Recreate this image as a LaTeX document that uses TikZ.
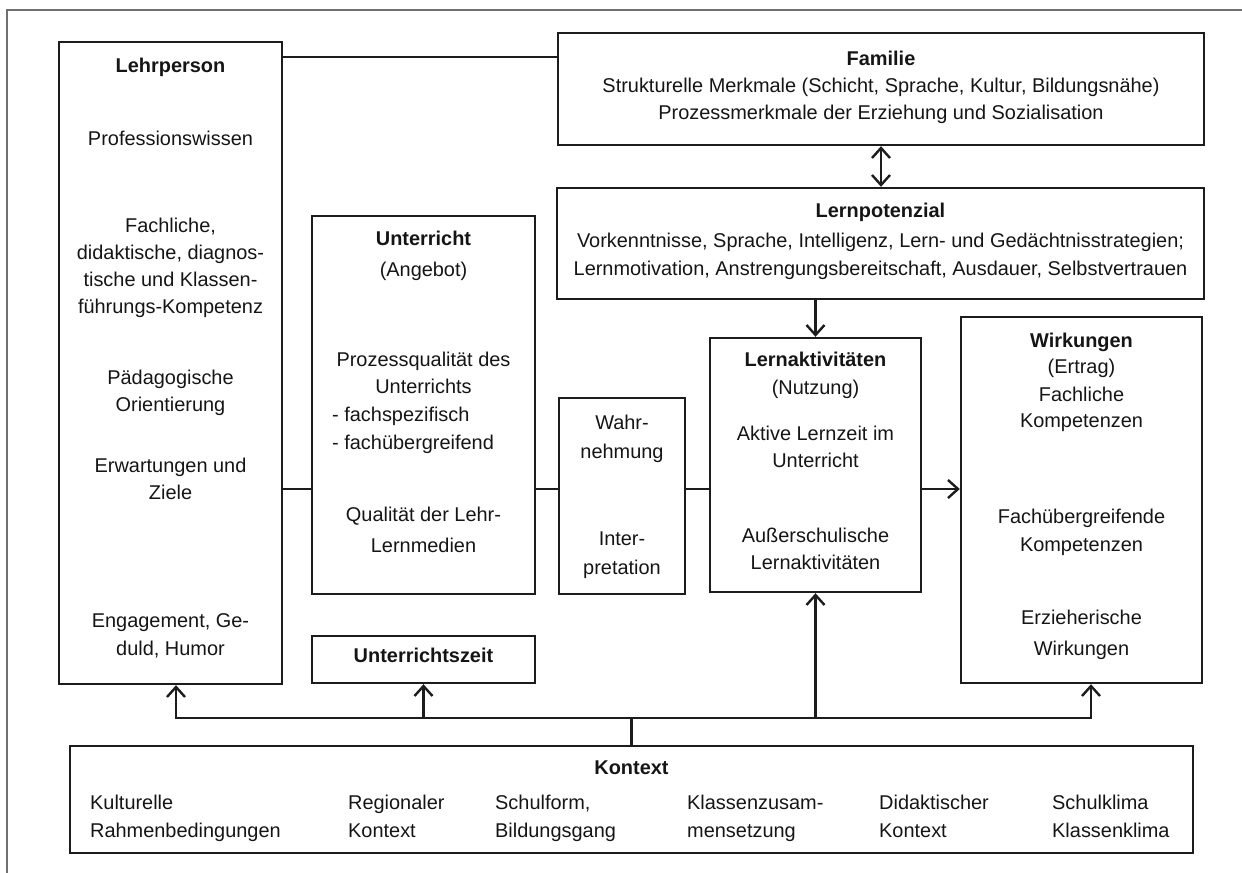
\documentclass[tikz,border=0pt]{standalone}
\usepackage{fontspec}
\setmainfont{Liberation Sans}
\usetikzlibrary{arrows.meta}
\definecolor{boxcol}{HTML}{1C1C1C}
\definecolor{txtcol}{HTML}{151515}
\definecolor{framecol}{HTML}{707070}
\begin{document}
\begin{tikzpicture}[x=1bp,y=-1bp,
  box/.style={draw=boxcol, line width=2.4bp, inner sep=0pt},
  txt/.style={inner sep=0pt, anchor=mid, text=txtcol, font=\fontsize{20}{24}\selectfont},
  txtl/.style={txt, anchor=mid west},
  ttl/.style={txt, font=\fontsize{20}{24}\selectfont\bfseries},
  conn/.style={draw=boxcol, line width=2.4bp},
  arr/.style={conn, -{Straight Barb[length=10bp,width=18bp]}},
  dbl/.style={conn, {Straight Barb[length=10bp,width=18bp]}-{Straight Barb[length=10bp,width=18bp]}},
  framel/.style={draw=framecol, line width=1.6bp}]
\useasboundingbox (0,0) rectangle (1242,873);
\draw[framel] (7,873) -- (7,10) -- (1242,10);

% boxes
\node[box, minimum width=223bp, minimum height=642bp] (lehr) at (170.5,363) {};
\node[box, minimum width=646bp, minimum height=112bp] (fam) at (881,89) {};
\node[box, minimum width=647bp, minimum height=111bp] (lpot) at (880.5,243.5) {};
\node[box, minimum width=223bp, minimum height=378bp] (unt) at (423.5,405) {};
\node[box, minimum width=223bp, minimum height=47bp] (uzeit) at (423.5,659.5) {};
\node[box, minimum width=126bp, minimum height=196bp] (wahr) at (622,496) {};
\node[box, minimum width=211bp, minimum height=254bp] (lakt) at (815.5,465) {};
\node[box, minimum width=241bp, minimum height=366bp] (wirk) at (1081.5,500) {};
\node[box, minimum width=1123bp, minimum height=107bp] (kon) at (631.5,799.5) {};

% Lehrperson texts
\node[ttl] (l1) at (170.5,70) {Lehrperson};
\node[txt] (l2) at (170.5,143) {Professionswissen};
\node[txt] (l3) at (170.5,230) {Fachliche,};
\node[txt] (l4) at (170.5,257) {didaktische, diagnos-};
\node[txt] (l5) at (170.5,284) {tische und Klassen-};
\node[txt] (l6) at (170.5,311) {führungs-Kompetenz};
\node[txt] (l7) at (170.5,382) {Pädagogische};
\node[txt] (l8) at (170.5,409) {Orientierung};
\node[txt] (l9) at (170.5,470) {Erwartungen und};
\node[txt] (l10) at (170.5,497) {Ziele};
\node[txt] (l11) at (170.5,625) {Engagement, Ge-};
\node[txt] (l12) at (170.5,653) {duld, Humor};

% Familie
\node[ttl] (f1) at (881,63) {Familie};
\node[txt] (f2) at (881,90) {Strukturelle Merkmale (Schicht, Sprache, Kultur, Bildungsnähe)};
\node[txt] (f3) at (881,117) {Prozessmerkmale der Erziehung und Sozialisation};

% Lernpotenzial
\node[ttl] (p1) at (880.5,215) {Lernpotenzial};
\node[txt] (p2) at (880.5,245) {Vorkenntnisse, Sprache, Intelligenz, Lern- und Gedächtnisstrategien;};
\node[txt] (p3) at (880.5,273) {Lernmotivation, Anstrengungsbereitschaft, Ausdauer, Selbstvertrauen};

% Unterricht
\node[ttl] (u1) at (423.5,243) {Unterricht};
\node[txt] (u2) at (423.5,274) {(Angebot)};
\node[txt] (u3) at (423.5,364) {Prozessqualität des};
\node[txt] (u4) at (423.5,391) {Unterrichts};
\node[txtl] (u5) at (332,419) {- fachspezifisch};
\node[txtl] (u6) at (332,447) {- fachübergreifend};
\node[txt] (u7) at (423.5,519) {Qualität der Lehr-};
\node[txt] (u8) at (423.5,550) {Lernmedien};
\node[ttl] (z1) at (423.5,660) {Unterrichtszeit};

% Wahrnehmung
\node[txt] (w1) at (622,427) {Wahr-};
\node[txt] (w2) at (622,456) {nehmung};
\node[txt] (w3) at (622,543) {Inter-};
\node[txt] (w4) at (622,572) {pretation};

% Lernaktivitaeten
\node[ttl] (a1) at (815.5,364) {Lernaktivitäten};
\node[txt] (a2) at (815.5,392) {(Nutzung)};
\node[txt] (a3) at (815.5,438) {Aktive Lernzeit im};
\node[txt] (a4) at (815.5,465) {Unterricht};
\node[txt] (a5) at (815.5,540) {Außerschulische};
\node[txt] (a6) at (815.5,567) {Lernaktivitäten};

% Wirkungen
\node[ttl] (k1) at (1081.5,345) {Wirkungen};
\node[txt] (k2) at (1081.5,371) {(Ertrag)};
\node[txt] (k3) at (1081.5,399) {Fachliche};
\node[txt] (k4) at (1081.5,425) {Kompetenzen};
\node[txt] (k5) at (1081.5,521) {Fachübergreifende};
\node[txt] (k6) at (1081.5,549) {Kompetenzen};
\node[txt] (k7) at (1081.5,622) {Erzieherische};
\node[txt] (k8) at (1081.5,653) {Wirkungen};

% Kontext
\node[ttl] (c0) at (631.5,772) {Kontext};
\node[txtl] (c1) at (90,807) {Kulturelle};
\node[txtl] (c2) at (90,835) {Rahmenbedingungen};
\node[txtl] (c3) at (348,807) {Regionaler};
\node[txtl] (c4) at (348,835) {Kontext};
\node[txtl] (c5) at (495,807) {Schulform,};
\node[txtl] (c6) at (495,835) {Bildungsgang};
\node[txtl] (c7) at (687,807) {Klassenzusam-};
\node[txtl] (c8) at (687,835) {mensetzung};
\node[txtl] (c9) at (879,807) {Didaktischer};
\node[txtl] (c10) at (879,835) {Kontext};
\node[txtl] (c11) at (1052,807) {Schulklima};
\node[txtl] (c12) at (1052,835) {Klassenklima};

% connectors
\coordinate (ytop) at (0,57);
\coordinate (ymid) at (0,489);
\coordinate (ybus) at (0,718);
\coordinate (xl) at (176,0);
\coordinate (xr) at (1091,0);
\draw[conn] (lehr.east |- ytop) -- (fam.west |- ytop);
\draw[dbl] (fam.south) -- (fam.south |- lpot.north);
\draw[arr] (lakt.north |- lpot.south) -- (lakt.north);
\draw[conn] (lehr.east |- ymid) -- (unt.west |- ymid);
\draw[conn] (unt.east |- ymid) -- (wahr.west |- ymid);
\draw[conn] (wahr.east |- ymid) -- (lakt.west |- ymid);
\draw[arr] (lakt.east |- ymid) -- (wirk.west |- ymid);
\draw[conn] (kon.north) -- (kon.north |- ybus);
\draw[arr] (kon.north |- ybus) -| (xl |- lehr.south);
\draw[arr] (kon.north |- ybus) -| (xr |- wirk.south);
\draw[arr] (uzeit.south |- ybus) -- (uzeit.south);
\draw[arr] (lakt.south |- ybus) -- (lakt.south);
\end{tikzpicture}
\end{document}
